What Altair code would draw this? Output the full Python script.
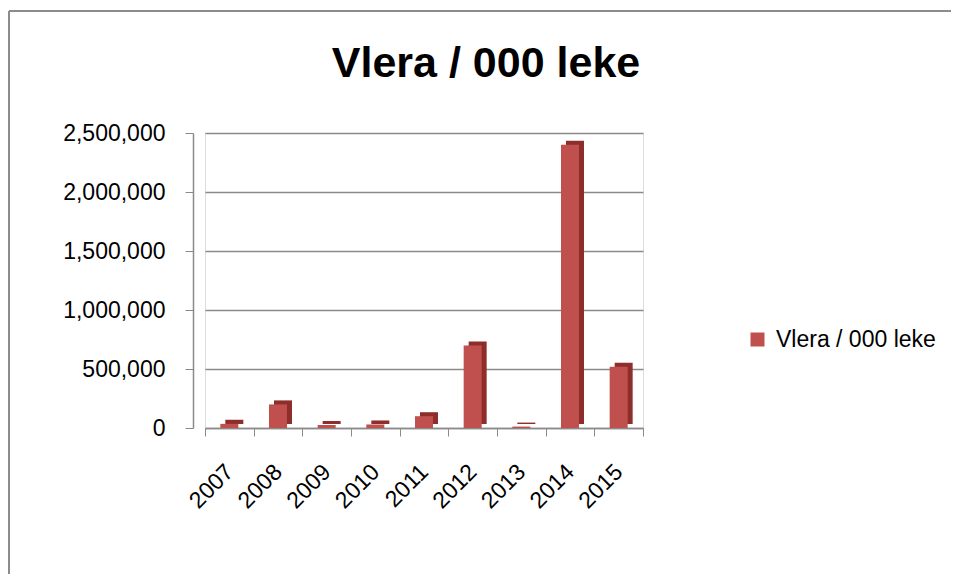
import altair as alt
import pandas as pd

years = ["2007", "2008", "2009", "2010", "2011", "2012", "2013", "2014", "2015"]
values = [35000, 200000, 25000, 30000, 100000, 700000, 12000, 2400000, 520000]
series_name = "Vlera / 000 leke"
y_ticks = [0, 500000, 1000000, 1500000, 2000000, 2500000]

df = pd.DataFrame({"year": years, "value": values, "series": [series_name] * len(years)})
one_df = pd.DataFrame({"label": [series_name]})

FONT = "Liberation Sans"
GRID = "#8a8a8a"
RED = "#C0504D"
RED_DARK = "#8E2E2B"

x_enc = alt.X(
    "year:N",
    sort=years,
    scale=alt.Scale(paddingInner=0, paddingOuter=0),
    axis=alt.Axis(
        title=None,
        labelAngle=-45,
        labelAlign="right",
        labelBaseline="middle",
        labelFont=FONT,
        labelFontSize=23,
        labelColor="black",
        labelPadding=32,
        tickBand="extent",
        tickSize=8,
        tickColor=GRID,
        domainColor=GRID,
        domainWidth=1.5,
        grid=False,
    ),
)
y_enc = alt.Y(
    "value:Q",
    scale=alt.Scale(domain=[0, 2500000], nice=False),
    axis=alt.Axis(
        title=None,
        values=y_ticks,
        format=",.0f",
        labelFont=FONT,
        labelFontSize=23,
        labelColor="black",
        labelPadding=20,
        tickSize=8,
        tickColor=GRID,
        domainColor=GRID,
        domainWidth=1.5,
        offset=12,
        grid=True,
        gridColor=GRID,
        gridWidth=1.5,
    ),
)

base = alt.Chart(df)
shadow = base.mark_bar(size=18, color=RED_DARK, xOffset=5, yOffset=-4, y2Offset=-4).encode(x=x_enc, y=y_enc)
front = base.mark_bar(size=18).encode(
    x=x_enc,
    y=y_enc,
    color=alt.Color(
        "series:N",
        scale=alt.Scale(range=[RED]),
        legend=alt.Legend(
            title=None,
            orient="none",
            legendX=541,
            legendY=195,
            symbolType="square",
            symbolSize=196,
            symbolStrokeWidth=0,
            labelFont=FONT,
            labelFontSize=23,
            labelColor="black",
            labelOffset=7,
        ),
    ),
)

title_text = alt.Chart(one_df).mark_text(
    font=FONT, fontSize=43, fontWeight="bold", color="black", align="center", baseline="alphabetic"
).encode(text="label:N", x=alt.value(281), y=alt.value(-56))

border_top = alt.Chart(one_df).mark_rule(color="#8c8c8c", strokeWidth=2).encode(
    x=alt.value(-196), x2=alt.value(746), y=alt.value(-122)
)
border_left = alt.Chart(one_df).mark_rule(color="#8c8c8c", strokeWidth=2).encode(
    x=alt.value(-196), y=alt.value(-122), y2=alt.value(441)
)

chart = alt.layer(border_top, border_left, title_text, shadow, front).properties(
    width=438,
    height=295,
    autosize=alt.AutoSizeParams(type="none"),
    padding={"left": 197, "top": 125, "right": 308, "bottom": 146},
).configure_view(stroke=None).configure(background="white")

chart.save("out.html", embed_options={"renderer": "svg", "actions": False})
